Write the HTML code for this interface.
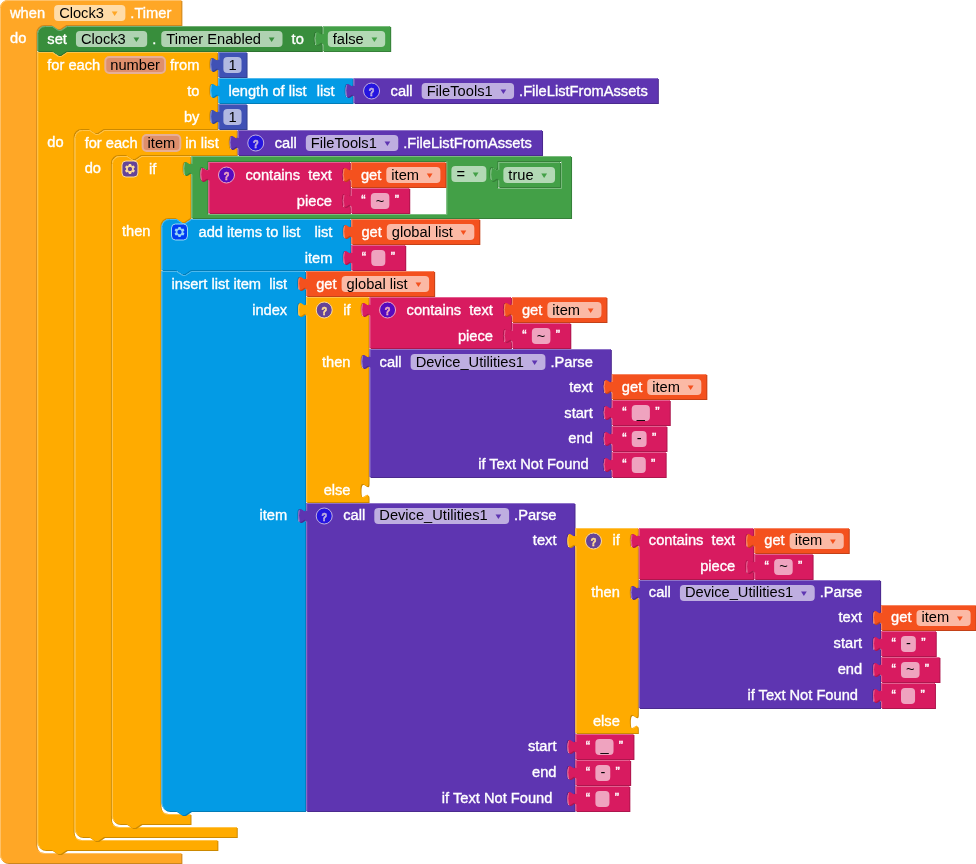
<!DOCTYPE html>
<html lang="en"><head><meta charset="utf-8"><title>Blocks</title>
<style>
html,body{margin:0;padding:0;background:#fff;}
body{width:976px;height:864px;overflow:hidden;}
svg{display:block;}
svg text{white-space:pre;font-family:"Liberation Sans",Arial,Helvetica,sans-serif;font-size:11pt;fill:#fff;}
svg text{stroke:#fff;stroke-width:.35px;}
svg text.k{fill:#000;stroke:none;}
svg text.ar{stroke:none;}
svg text.qt{font-size:13px;}
svg text.ar{font-family:"DejaVu Sans","Liberation Sans",sans-serif;font-size:8.9px;}
svg .fe{fill:#fff;fill-opacity:.6;}
svg .fp{fill:#de8f6c;stroke:#e7af96;stroke-width:2;}
svg .hl{fill:none;stroke-width:1;}
svg .ic{opacity:.6;}
svg .is{fill:#00f;stroke:#fff;stroke-width:1;}
svg text.q{font-family:"Liberation Sans",sans-serif;font-weight:bold;font-size:11.5px;text-anchor:middle;fill:#fff;stroke-width:.6px;}
</style></head><body>
<svg width="976" height="864" viewBox="0 0 976 864">
<g transform="translate(0,0)"><path fill="#cc861e" transform="translate(1,1)" d="m 0,8 A 8,8 0 0,1 8,0 H 181.38 v 25 H 66.31 l -6,4 -3,0 -6,-4 h -7 a 8,8 0 0,0 -8,8 v 812 a 8,8 0 0,0 8,8 H 181.38 v 10 H 8 a 8,8 0 0,1 -8,-8 z "/><path fill="#FFA726" d="m 0,8 A 8,8 0 0,1 8,0 H 181.38 v 25 H 66.31 l -6,4 -3,0 -6,-4 h -7 a 8,8 0 0,0 -8,8 v 812 a 8,8 0 0,0 8,8 H 181.38 v 10 H 8 a 8,8 0 0,1 -8,-8 z "/><path class="hl" stroke="#ffc167" d="m 0.5,7.5 A 7.5,7.5 0 0,1 8,0.5 H 180.88 M 180.88,0.5 M 180.88,25.5 M 38.3,851.01 a 8.5,8.5 0 0,0 6.01,2.49 H 180.88 M 2.7,860.3 A 7.5,7.5 0 0,1 0.5,855 V 8 "/></g>
<text x="10" y="17.5">when</text>
<rect class="fe" x="54.14" y="5" width="71.23" height="16" rx="4"/>
<text class="k" x="59.14" y="17.5">Clock3</text>
<text class="ar" style="fill:#FFA726" transform="translate(111.67,15.7) scale(1.3,1)">▾</text>
<text x="130.37" y="17.5">.Timer</text>
<text x="10" y="42.5">do</text>
<g transform="translate(37.31,26)"><path fill="#2d7230" transform="translate(1,1)" d="m 0,8 A 8,8 0 0,1 8,0 H 15 l 6,4 3,0 6,-4 H 284.49 v 5 c 0,10 -8,-8 -8,7.5 s 8,-2.5 8,7.5 v 5 H 29.5 l -6,4 -3,0 -6,-4 H 0 z "/><path fill="#388E3C" d="m 0,8 A 8,8 0 0,1 8,0 H 15 l 6,4 3,0 6,-4 H 284.49 v 5 c 0,10 -8,-8 -8,7.5 s 8,-2.5 8,7.5 v 5 H 29.5 l -6,4 -3,0 -6,-4 H 0 z "/><path class="hl" stroke="#74b076" d="m 0.5,7.5 A 7.5,7.5 0 0,1 8,0.5 H 15 l 6,4 3,0 6,-4 H 283.99 M 283.99,0.5 M 279.49,19.3 l 3.68,-2.1 M 0.5,24.5 V 8 "/></g>
<text x="47.31" y="43.5">set</text>
<rect class="fe" x="75.95" y="31" width="71.23" height="16" rx="4"/>
<text class="k" x="80.95" y="43.5">Clock3</text>
<text class="ar" style="fill:#388E3C" transform="translate(133.49,41.7) scale(1.3,1)">▾</text>
<text x="152.19" y="43.5">.</text>
<rect class="fe" x="161.26" y="31" width="121.24" height="16" rx="4"/>
<text class="k" x="166.26" y="43.5">Timer Enabled</text>
<text class="ar" style="fill:#388E3C" transform="translate(268.8,41.7) scale(1.3,1)">▾</text>
<text x="291.57" y="43.5">to</text>
<g transform="translate(322.8,26)"><path fill="#368039" transform="translate(1,1)" d="m 0,0 H 67.38 v 25 H 0 V 20 c 0,-10 -8,8 -8,-7.5 s 8,2.5 8,-7.5 z "/><path fill="#43A047" d="m 0,0 H 67.38 v 25 H 0 V 20 c 0,-10 -8,8 -8,-7.5 s 8,2.5 8,-7.5 z "/><path class="hl" stroke="#7bbc7e" d="m 0.5,0.5 H 66.88 M 66.88,0.5 M 0.5,24.5 V 18.5 m -7.36,-0.5 q -1.52,-5.5 0,-11 m 7.36,1 V 0.5 H 1 "/></g>
<rect class="fe" x="327.8" y="31" width="57.38" height="16" rx="4"/>
<text class="k" x="332.8" y="43.5">false</text>
<text class="ar" style="fill:#43A047" transform="translate(371.48,41.7) scale(1.3,1)">▾</text>
<g transform="translate(37.31,52)"><path fill="#cc8900" transform="translate(1,1)" d="m 0,0 H 15 l 6,4 3,0 6,-4 H 180.06 v 5 c 0,10 -8,-8 -8,7.5 s 8,-2.5 8,7.5 v 6 v 5 c 0,10 -8,-8 -8,7.5 s 8,-2.5 8,7.5 v 6 v 5 c 0,10 -8,-8 -8,7.5 s 8,-2.5 8,7.5 v 5 H 66.31 l -6,4 -3,0 -6,-4 h -7 a 8,8 0 0,0 -8,8 v 695 a 8,8 0 0,0 8,8 H 180.06 v 10 H 29.5 l -6,4 -3,0 -6,-4 H 8 a 8,8 0 0,1 -8,-8 z "/><path fill="#FFAB00" d="m 0,0 H 15 l 6,4 3,0 6,-4 H 180.06 v 5 c 0,10 -8,-8 -8,7.5 s 8,-2.5 8,7.5 v 6 v 5 c 0,10 -8,-8 -8,7.5 s 8,-2.5 8,7.5 v 6 v 5 c 0,10 -8,-8 -8,7.5 s 8,-2.5 8,7.5 v 5 H 66.31 l -6,4 -3,0 -6,-4 h -7 a 8,8 0 0,0 -8,8 v 695 a 8,8 0 0,0 8,8 H 180.06 v 10 H 29.5 l -6,4 -3,0 -6,-4 H 8 a 8,8 0 0,1 -8,-8 z "/><path class="hl" stroke="#ffc44c" d="m 0.5,0.5 H 15 l 6,4 3,0 6,-4 H 179.56 M 179.56,0.5 M 175.06,19.3 l 3.68,-2.1 M 179.56,26.5 M 175.06,45.3 l 3.68,-2.1 M 179.56,52.5 M 175.06,71.3 l 3.68,-2.1 M 179.56,77.5 M 38.3,786.01 a 8.5,8.5 0 0,0 6.01,2.49 H 179.56 M 2.7,795.3 A 7.5,7.5 0 0,1 0.5,790 V 0.5 "/></g>
<text x="47.31" y="69.5">for each</text>
<rect class="fp" x="105.31" y="57" width="59.73" height="16" rx="4"/>
<text class="k" x="110.31" y="69.5">number</text>
<text x="170.04" y="69.5">from</text>
<text x="187.14" y="95.5">to</text>
<text x="183.89" y="121.5">by</text>
<text x="47.31" y="146.5">do</text>
<g transform="translate(218.38,52)"><path fill="#324191" transform="translate(1,1)" d="m 0,0 H 28.16 v 25 H 0 V 20 c 0,-10 -8,8 -8,-7.5 s 8,2.5 8,-7.5 z "/><path fill="#3F51B5" d="m 0,0 H 28.16 v 25 H 0 V 20 c 0,-10 -8,8 -8,-7.5 s 8,2.5 8,-7.5 z "/><path class="hl" stroke="#7985cb" d="m 0.5,0.5 H 27.66 M 27.66,0.5 M 0.5,24.5 V 18.5 m -7.36,-0.5 q -1.52,-5.5 0,-11 m 7.36,1 V 0.5 H 1 "/></g>
<rect class="fe" x="223.38" y="57" width="18.16" height="16" rx="4"/>
<text class="k" x="228.38" y="69.5">1</text>
<g transform="translate(218.38,78)"><path fill="#027cb7" transform="translate(1,1)" d="m 0,0 H 134.19 v 5 c 0,10 -8,-8 -8,7.5 s 8,-2.5 8,7.5 v 5 H 0 V 20 c 0,-10 -8,8 -8,-7.5 s 8,2.5 8,-7.5 z "/><path fill="#039BE5" d="m 0,0 H 134.19 v 5 c 0,10 -8,-8 -8,7.5 s 8,-2.5 8,7.5 v 5 H 0 V 20 c 0,-10 -8,8 -8,-7.5 s 8,2.5 8,-7.5 z "/><path class="hl" stroke="#4fb9ed" d="m 0.5,0.5 H 133.69 M 133.69,0.5 M 129.19,19.3 l 3.68,-2.1 M 0.5,24.5 V 18.5 m -7.36,-0.5 q -1.52,-5.5 0,-11 m 7.36,1 V 0.5 H 1 "/></g>
<text x="228.38" y="95.5">length of list</text>
<text x="316.65" y="95.5">list</text>
<g transform="translate(353.57,78)"><path fill="#4b2a8e" transform="translate(1,1)" d="m 0,0 H 304.28 v 25 H 0 V 20 c 0,-10 -8,8 -8,-7.5 s 8,2.5 8,-7.5 z "/><path fill="#5E35B1" d="m 0,0 H 304.28 v 25 H 0 V 20 c 0,-10 -8,8 -8,-7.5 s 8,2.5 8,-7.5 z "/><path class="hl" stroke="#8e72c8" d="m 0.5,0.5 H 303.78 M 303.78,0.5 M 0.5,24.5 V 18.5 m -7.36,-0.5 q -1.52,-5.5 0,-11 m 7.36,1 V 0.5 H 1 "/></g>
<g class="ic" transform="translate(363.57,83)"><circle class="is" cx="8" cy="8" r="8"/><text class="q" transform="translate(8.1,12.9) scale(.8,1.02)">?</text></g>
<text x="390.57" y="95.5">call</text>
<rect class="fe" x="421.65" y="83" width="92.43" height="16" rx="4"/>
<text class="k" x="426.65" y="95.5">FileTools1</text>
<text class="ar" style="fill:#5E35B1" transform="translate(500.38,93.7) scale(1.3,1)">▾</text>
<text x="519.08" y="95.5">.FileListFromAssets</text>
<g transform="translate(218.38,104)"><path fill="#324191" transform="translate(1,1)" d="m 0,0 H 28.16 v 25 H 0 V 20 c 0,-10 -8,8 -8,-7.5 s 8,2.5 8,-7.5 z "/><path fill="#3F51B5" d="m 0,0 H 28.16 v 25 H 0 V 20 c 0,-10 -8,8 -8,-7.5 s 8,2.5 8,-7.5 z "/><path class="hl" stroke="#7985cb" d="m 0.5,0.5 H 27.66 M 27.66,0.5 M 0.5,24.5 V 18.5 m -7.36,-0.5 q -1.52,-5.5 0,-11 m 7.36,1 V 0.5 H 1 "/></g>
<rect class="fe" x="223.38" y="109" width="18.16" height="16" rx="4"/>
<text class="k" x="228.38" y="121.5">1</text>
<g transform="translate(74.63,130)"><path fill="#cc8900" transform="translate(1,1)" d="m 0,8 A 8,8 0 0,1 8,0 H 15 l 6,4 3,0 6,-4 H 162.12 v 5 c 0,10 -8,-8 -8,7.5 s 8,-2.5 8,7.5 v 5 H 66.31 l -6,4 -3,0 -6,-4 h -7 a 8,8 0 0,0 -8,8 v 656 a 8,8 0 0,0 8,8 H 162.12 v 10 H 29.5 l -6,4 -3,0 -6,-4 H 8 a 8,8 0 0,1 -8,-8 z "/><path fill="#FFAB00" d="m 0,8 A 8,8 0 0,1 8,0 H 15 l 6,4 3,0 6,-4 H 162.12 v 5 c 0,10 -8,-8 -8,7.5 s 8,-2.5 8,7.5 v 5 H 66.31 l -6,4 -3,0 -6,-4 h -7 a 8,8 0 0,0 -8,8 v 656 a 8,8 0 0,0 8,8 H 162.12 v 10 H 29.5 l -6,4 -3,0 -6,-4 H 8 a 8,8 0 0,1 -8,-8 z "/><path class="hl" stroke="#ffc44c" d="m 0.5,7.5 A 7.5,7.5 0 0,1 8,0.5 H 15 l 6,4 3,0 6,-4 H 161.62 M 161.62,0.5 M 157.12,19.3 l 3.68,-2.1 M 161.62,25.5 M 38.3,695.01 a 8.5,8.5 0 0,0 6.01,2.49 H 161.62 M 2.7,704.3 A 7.5,7.5 0 0,1 0.5,699 V 8 "/></g>
<text x="84.63" y="147.5">for each</text>
<rect class="fp" x="142.62" y="135" width="37.71" height="16" rx="4"/>
<text class="k" x="147.62" y="147.5">item</text>
<text x="185.33" y="147.5">in list</text>
<text x="84.63" y="172.5">do</text>
<g transform="translate(237.75,130)"><path fill="#4b2a8e" transform="translate(1,1)" d="m 0,0 H 304.28 v 25 H 0 V 20 c 0,-10 -8,8 -8,-7.5 s 8,2.5 8,-7.5 z "/><path fill="#5E35B1" d="m 0,0 H 304.28 v 25 H 0 V 20 c 0,-10 -8,8 -8,-7.5 s 8,2.5 8,-7.5 z "/><path class="hl" stroke="#8e72c8" d="m 0.5,0.5 H 303.78 M 303.78,0.5 M 0.5,24.5 V 18.5 m -7.36,-0.5 q -1.52,-5.5 0,-11 m 7.36,1 V 0.5 H 1 "/></g>
<g class="ic" transform="translate(247.75,135)"><circle class="is" cx="8" cy="8" r="8"/><text class="q" transform="translate(8.1,12.9) scale(.8,1.02)">?</text></g>
<text x="274.75" y="147.5">call</text>
<rect class="fe" x="305.83" y="135" width="92.43" height="16" rx="4"/>
<text class="k" x="310.83" y="147.5">FileTools1</text>
<text class="ar" style="fill:#5E35B1" transform="translate(384.56,145.7) scale(1.3,1)">▾</text>
<text x="403.26" y="147.5">.FileListFromAssets</text>
<g transform="translate(111.94,156)"><path fill="#cc8900" transform="translate(1,1)" d="m 0,8 A 8,8 0 0,1 8,0 H 15 l 6,4 3,0 6,-4 H 78.55 v 5 c 0,10 -8,-8 -8,7.5 s 8,-2.5 8,7.5 v 42 H 78.55 l -6,4 -3,0 -6,-4 h -7 a 8,8 0 0,0 -8,8 v 580 a 8,8 0 0,0 8,8 H 78.55 v 10 H 29.5 l -6,4 -3,0 -6,-4 H 8 a 8,8 0 0,1 -8,-8 z "/><path fill="#FFAB00" d="m 0,8 A 8,8 0 0,1 8,0 H 15 l 6,4 3,0 6,-4 H 78.55 v 5 c 0,10 -8,-8 -8,7.5 s 8,-2.5 8,7.5 v 42 H 78.55 l -6,4 -3,0 -6,-4 h -7 a 8,8 0 0,0 -8,8 v 580 a 8,8 0 0,0 8,8 H 78.55 v 10 H 29.5 l -6,4 -3,0 -6,-4 H 8 a 8,8 0 0,1 -8,-8 z "/><path class="hl" stroke="#ffc44c" d="m 0.5,7.5 A 7.5,7.5 0 0,1 8,0.5 H 15 l 6,4 3,0 6,-4 H 78.05 M 78.05,0.5 M 73.55,19.3 l 3.68,-2.1 M 78.05,62.5 M 50.54,656.01 a 8.5,8.5 0 0,0 6.01,2.49 H 78.05 M 2.7,665.3 A 7.5,7.5 0 0,1 0.5,660 V 8 "/></g>
<g class="ic" transform="translate(121.94,161)"><rect class="is" width="16" height="16" rx="4"/><path fill="#fff" d="m4.203,7.296 0,1.368 -0.92,0.677 -0.11,0.41 0.9,1.559 0.41,0.11 1.043,-0.457 1.187,0.683 0.127,1.134 0.3,0.3 1.8,0 0.3,-0.299 0.127,-1.138 1.185,-0.682 1.046,0.458 0.409,-0.11 0.9,-1.559 -0.11,-0.41 -0.92,-0.677 0,-1.366 0.92,-0.677 0.11,-0.41 -0.9,-1.559 -0.409,-0.109 -1.046,0.458 -1.185,-0.682 -0.127,-1.138 -0.3,-0.299 -1.8,0 -0.3,0.3 -0.126,1.135 -1.187,0.682 -1.043,-0.457 -0.41,0.11 -0.899,1.559 0.108,0.409z"/><circle class="is" cx="8" cy="8" r="2.7"/></g>
<text x="148.94" y="173.5">if</text>
<text x="121.94" y="235.5">then</text>
<g transform="translate(191.49,156)"><path fill="#368039" transform="translate(1,1)" d="m 0,0 H 20 H 379.55 v 62 H 0 V 20 c 0,-10 -8,8 -8,-7.5 s 8,2.5 8,-7.5 z M 254.92,5 h -238.92 v 5 c 0,10 -8,-8 -8,7.5 s 8,-2.5 8,7.5 v 33 h 238.92 z M 369.55,5 h -63.67 v 5 c 0,10 -8,-8 -8,7.5 s 8,-2.5 8,7.5 v 7 h 63.67 z"/><path fill="#43A047" d="m 0,0 H 20 H 379.55 v 62 H 0 V 20 c 0,-10 -8,8 -8,-7.5 s 8,2.5 8,-7.5 z M 254.92,5 h -238.92 v 5 c 0,10 -8,-8 -8,7.5 s 8,-2.5 8,7.5 v 33 h 238.92 z M 369.55,5 h -63.67 v 5 c 0,10 -8,-8 -8,7.5 s 8,-2.5 8,7.5 v 7 h 63.67 z"/><path class="hl" stroke="#7bbc7e" d="m 0.5,0.5 H 19.5 M 19.5,0.5 H 379.05 M 0.5,61.5 V 18.5 m -7.36,-0.5 q -1.52,-5.5 0,-11 m 7.36,1 V 0.5 H 1 M 255.42,5.5 v 53 h -238.92 M 10.9,24.3 l 3.68,-2.1 M 370.05,5.5 v 27 h -63.67 M 300.78,24.3 l 3.68,-2.1"/></g>
<rect class="fe" x="451.4" y="166" width="34.97" height="16" rx="4"/>
<text class="k" x="456.4" y="178.5">=</text>
<text class="ar" style="fill:#43A047" transform="translate(472.67,176.7) scale(1.3,1)">▾</text>
<g transform="translate(208.49,162)"><path fill="#ad164d" transform="translate(1,1)" d="m 0,0 H 141.42 v 5 c 0,10 -8,-8 -8,7.5 s 8,-2.5 8,7.5 v 6 v 5 c 0,10 -8,-8 -8,7.5 s 8,-2.5 8,7.5 v 5 H 0 V 20 c 0,-10 -8,8 -8,-7.5 s 8,2.5 8,-7.5 z "/><path fill="#D81B60" d="m 0,0 H 141.42 v 5 c 0,10 -8,-8 -8,7.5 s 8,-2.5 8,7.5 v 6 v 5 c 0,10 -8,-8 -8,7.5 s 8,-2.5 8,7.5 v 5 H 0 V 20 c 0,-10 -8,8 -8,-7.5 s 8,2.5 8,-7.5 z "/><path class="hl" stroke="#e45f90" d="m 0.5,0.5 H 140.92 M 140.92,0.5 M 136.42,19.3 l 3.68,-2.1 M 140.92,26.5 M 136.42,45.3 l 3.68,-2.1 M 0.5,50.5 V 18.5 m -7.36,-0.5 q -1.52,-5.5 0,-11 m 7.36,1 V 0.5 H 1 "/></g>
<g class="ic" transform="translate(218.49,167)"><circle class="is" cx="8" cy="8" r="8"/><text class="q" transform="translate(8.1,12.9) scale(.8,1.02)">?</text></g>
<text x="245.49" y="179.5">contains  text</text>
<text x="296.84" y="205.5">piece</text>
<g transform="translate(350.91,162)"><path fill="#c34118" transform="translate(1,1)" d="m 0,0 H 94.5 v 25 H 0 V 20 c 0,-10 -8,8 -8,-7.5 s 8,2.5 8,-7.5 z "/><path fill="#F4511E" d="m 0,0 H 94.5 v 25 H 0 V 20 c 0,-10 -8,8 -8,-7.5 s 8,2.5 8,-7.5 z "/><path class="hl" stroke="#f78562" d="m 0.5,0.5 H 94 M 94,0.5 M 0.5,24.5 V 18.5 m -7.36,-0.5 q -1.52,-5.5 0,-11 m 7.36,1 V 0.5 H 1 "/></g>
<text x="360.91" y="179.5">get</text>
<rect class="fe" x="386.3" y="167" width="54.11" height="16" rx="4"/>
<text class="k" x="391.3" y="179.5">item</text>
<text class="ar" style="fill:#F4511E" transform="translate(426.7,177.7) scale(1.3,1)">▾</text>
<g transform="translate(350.91,188)"><path fill="#ad164d" transform="translate(1,1)" d="m 0,0 H 58.33 v 25 H 0 V 20 c 0,-10 -8,8 -8,-7.5 s 8,2.5 8,-7.5 z "/><path fill="#D81B60" d="m 0,0 H 58.33 v 25 H 0 V 20 c 0,-10 -8,8 -8,-7.5 s 8,2.5 8,-7.5 z "/><path class="hl" stroke="#e45f90" d="m 0.5,0.5 H 57.83 M 57.83,0.5 M 0.5,24.5 V 18.5 m -7.36,-0.5 q -1.52,-5.5 0,-11 m 7.36,1 V 0.5 H 1 "/></g>
<text class="qt" x="361.21" y="204">“</text>
<rect class="fe" x="370.79" y="193" width="18.57" height="16" rx="4"/>
<text class="k" x="375.79" y="205.5">~</text>
<text class="qt" x="394.66" y="204">”</text>
<g transform="translate(498.37,162)"><path fill="#368039" transform="translate(1,1)" d="m 0,0 H 61.67 v 25 H 0 V 20 c 0,-10 -8,8 -8,-7.5 s 8,2.5 8,-7.5 z "/><path fill="#43A047" d="m 0,0 H 61.67 v 25 H 0 V 20 c 0,-10 -8,8 -8,-7.5 s 8,2.5 8,-7.5 z "/><path class="hl" stroke="#7bbc7e" d="m 0.5,0.5 H 61.17 M 61.17,0.5 M 0.5,24.5 V 18.5 m -7.36,-0.5 q -1.52,-5.5 0,-11 m 7.36,1 V 0.5 H 1 "/></g>
<rect class="fe" x="503.37" y="167" width="51.67" height="16" rx="4"/>
<text class="k" x="508.37" y="179.5">true</text>
<text class="ar" style="fill:#43A047" transform="translate(541.34,177.7) scale(1.3,1)">▾</text>
<g transform="translate(161.49,219)"><path fill="#027cb7" transform="translate(1,1)" d="m 0,8 A 8,8 0 0,1 8,0 H 15 l 6,4 3,0 6,-4 H 188.89 v 5 c 0,10 -8,-8 -8,7.5 s 8,-2.5 8,7.5 v 6 v 5 c 0,10 -8,-8 -8,7.5 s 8,-2.5 8,7.5 v 5 H 29.5 l -6,4 -3,0 -6,-4 H 0 z "/><path fill="#039BE5" d="m 0,8 A 8,8 0 0,1 8,0 H 15 l 6,4 3,0 6,-4 H 188.89 v 5 c 0,10 -8,-8 -8,7.5 s 8,-2.5 8,7.5 v 6 v 5 c 0,10 -8,-8 -8,7.5 s 8,-2.5 8,7.5 v 5 H 29.5 l -6,4 -3,0 -6,-4 H 0 z "/><path class="hl" stroke="#4fb9ed" d="m 0.5,7.5 A 7.5,7.5 0 0,1 8,0.5 H 15 l 6,4 3,0 6,-4 H 188.39 M 188.39,0.5 M 183.89,19.3 l 3.68,-2.1 M 188.39,26.5 M 183.89,45.3 l 3.68,-2.1 M 0.5,50.5 V 8 "/></g>
<g class="ic" transform="translate(171.49,224)"><rect class="is" width="16" height="16" rx="4"/><path fill="#fff" d="m4.203,7.296 0,1.368 -0.92,0.677 -0.11,0.41 0.9,1.559 0.41,0.11 1.043,-0.457 1.187,0.683 0.127,1.134 0.3,0.3 1.8,0 0.3,-0.299 0.127,-1.138 1.185,-0.682 1.046,0.458 0.409,-0.11 0.9,-1.559 -0.11,-0.41 -0.92,-0.677 0,-1.366 0.92,-0.677 0.11,-0.41 -0.9,-1.559 -0.409,-0.109 -1.046,0.458 -1.185,-0.682 -0.127,-1.138 -0.3,-0.299 -1.8,0 -0.3,0.3 -0.126,1.135 -1.187,0.682 -1.043,-0.457 -0.41,0.11 -0.899,1.559 0.108,0.409z"/><circle class="is" cx="8" cy="8" r="2.7"/></g>
<text x="198.49" y="236.5">add items to list</text>
<text x="314.46" y="236.5">list</text>
<text x="304.68" y="262.5">item</text>
<g transform="translate(351.38,219)"><path fill="#c34118" transform="translate(1,1)" d="m 0,0 H 127.94 v 25 H 0 V 20 c 0,-10 -8,8 -8,-7.5 s 8,2.5 8,-7.5 z "/><path fill="#F4511E" d="m 0,0 H 127.94 v 25 H 0 V 20 c 0,-10 -8,8 -8,-7.5 s 8,2.5 8,-7.5 z "/><path class="hl" stroke="#f78562" d="m 0.5,0.5 H 127.44 M 127.44,0.5 M 0.5,24.5 V 18.5 m -7.36,-0.5 q -1.52,-5.5 0,-11 m 7.36,1 V 0.5 H 1 "/></g>
<text x="361.38" y="236.5">get</text>
<rect class="fe" x="386.77" y="224" width="87.55" height="16" rx="4"/>
<text class="k" x="391.77" y="236.5">global list</text>
<text class="ar" style="fill:#F4511E" transform="translate(460.62,234.7) scale(1.3,1)">▾</text>
<g transform="translate(351.38,245)"><path fill="#ad164d" transform="translate(1,1)" d="m 0,0 H 53.84 v 25 H 0 V 20 c 0,-10 -8,8 -8,-7.5 s 8,2.5 8,-7.5 z "/><path fill="#D81B60" d="m 0,0 H 53.84 v 25 H 0 V 20 c 0,-10 -8,8 -8,-7.5 s 8,2.5 8,-7.5 z "/><path class="hl" stroke="#e45f90" d="m 0.5,0.5 H 53.34 M 53.34,0.5 M 0.5,24.5 V 18.5 m -7.36,-0.5 q -1.52,-5.5 0,-11 m 7.36,1 V 0.5 H 1 "/></g>
<text class="qt" x="361.68" y="261">“</text>
<rect class="fe" x="371.27" y="250" width="14.07" height="16" rx="4"/>
<text class="k" x="376.27" y="262.5"> </text>
<text class="qt" x="390.64" y="261">”</text>
<g transform="translate(161.49,271)"><path fill="#027cb7" transform="translate(1,1)" d="m 0,0 H 15 l 6,4 3,0 6,-4 H 143.72 v 5 c 0,10 -8,-8 -8,7.5 s 8,-2.5 8,7.5 v 6 v 5 c 0,10 -8,-8 -8,7.5 s 8,-2.5 8,7.5 v 186 v 5 c 0,10 -8,-8 -8,7.5 s 8,-2.5 8,7.5 v 288 H 29.5 l -6,4 -3,0 -6,-4 H 8 a 8,8 0 0,1 -8,-8 z "/><path fill="#039BE5" d="m 0,0 H 15 l 6,4 3,0 6,-4 H 143.72 v 5 c 0,10 -8,-8 -8,7.5 s 8,-2.5 8,7.5 v 6 v 5 c 0,10 -8,-8 -8,7.5 s 8,-2.5 8,7.5 v 186 v 5 c 0,10 -8,-8 -8,7.5 s 8,-2.5 8,7.5 v 288 H 29.5 l -6,4 -3,0 -6,-4 H 8 a 8,8 0 0,1 -8,-8 z "/><path class="hl" stroke="#4fb9ed" d="m 0.5,0.5 H 15 l 6,4 3,0 6,-4 H 143.22 M 143.22,0.5 M 138.72,19.3 l 3.68,-2.1 M 143.22,26.5 M 138.72,45.3 l 3.68,-2.1 M 143.22,232.5 M 138.72,251.3 l 3.68,-2.1 M 2.7,537.3 A 7.5,7.5 0 0,1 0.5,532 V 0.5 "/></g>
<text x="171.49" y="288.5">insert list item  list</text>
<text x="252.15" y="314.5">index</text>
<text x="259.5" y="519.5">item</text>
<g transform="translate(306.21,271)"><path fill="#c34118" transform="translate(1,1)" d="m 0,0 H 127.94 v 25 H 0 V 20 c 0,-10 -8,8 -8,-7.5 s 8,2.5 8,-7.5 z "/><path fill="#F4511E" d="m 0,0 H 127.94 v 25 H 0 V 20 c 0,-10 -8,8 -8,-7.5 s 8,2.5 8,-7.5 z "/><path class="hl" stroke="#f78562" d="m 0.5,0.5 H 127.44 M 127.44,0.5 M 0.5,24.5 V 18.5 m -7.36,-0.5 q -1.52,-5.5 0,-11 m 7.36,1 V 0.5 H 1 "/></g>
<text x="316.21" y="288.5">get</text>
<rect class="fe" x="341.6" y="276" width="87.55" height="16" rx="4"/>
<text class="k" x="346.6" y="288.5">global list</text>
<text class="ar" style="fill:#F4511E" transform="translate(415.45,286.7) scale(1.3,1)">▾</text>
<g transform="translate(306.21,297)"><path fill="#cc8900" transform="translate(1,1)" d="m 0,0 H 62.33 v 5 c 0,10 -8,-8 -8,7.5 s 8,-2.5 8,7.5 v 32 v 5 c 0,10 -8,-8 -8,7.5 s 8,-2.5 8,7.5 v 109 v 5 c 0,10 -8,-8 -8,7.5 s 8,-2.5 8,7.5 v 4 H 0 V 20 c 0,-10 -8,8 -8,-7.5 s 8,2.5 8,-7.5 z "/><path fill="#FFAB00" d="m 0,0 H 62.33 v 5 c 0,10 -8,-8 -8,7.5 s 8,-2.5 8,7.5 v 32 v 5 c 0,10 -8,-8 -8,7.5 s 8,-2.5 8,7.5 v 109 v 5 c 0,10 -8,-8 -8,7.5 s 8,-2.5 8,7.5 v 4 H 0 V 20 c 0,-10 -8,8 -8,-7.5 s 8,2.5 8,-7.5 z "/><path class="hl" stroke="#ffc44c" d="m 0.5,0.5 H 61.83 M 61.83,0.5 M 57.33,19.3 l 3.68,-2.1 M 61.83,52.5 M 57.33,71.3 l 3.68,-2.1 M 61.83,181.5 M 57.33,200.3 l 3.68,-2.1 M 0.5,204.5 V 18.5 m -7.36,-0.5 q -1.52,-5.5 0,-11 m 7.36,1 V 0.5 H 1 "/></g>
<g class="ic" transform="translate(316.21,302)"><circle class="is" cx="8" cy="8" r="8"/><text class="q" transform="translate(8.1,12.9) scale(.8,1.02)">?</text></g>
<text x="343.21" y="314.5">if</text>
<text x="322" y="366.5">then</text>
<text x="323.64" y="495">else</text>
<g transform="translate(369.55,297)"><path fill="#ad164d" transform="translate(1,1)" d="m 0,0 H 141.42 v 5 c 0,10 -8,-8 -8,7.5 s 8,-2.5 8,7.5 v 6 v 5 c 0,10 -8,-8 -8,7.5 s 8,-2.5 8,7.5 v 5 H 0 V 20 c 0,-10 -8,8 -8,-7.5 s 8,2.5 8,-7.5 z "/><path fill="#D81B60" d="m 0,0 H 141.42 v 5 c 0,10 -8,-8 -8,7.5 s 8,-2.5 8,7.5 v 6 v 5 c 0,10 -8,-8 -8,7.5 s 8,-2.5 8,7.5 v 5 H 0 V 20 c 0,-10 -8,8 -8,-7.5 s 8,2.5 8,-7.5 z "/><path class="hl" stroke="#e45f90" d="m 0.5,0.5 H 140.92 M 140.92,0.5 M 136.42,19.3 l 3.68,-2.1 M 140.92,26.5 M 136.42,45.3 l 3.68,-2.1 M 0.5,50.5 V 18.5 m -7.36,-0.5 q -1.52,-5.5 0,-11 m 7.36,1 V 0.5 H 1 "/></g>
<g class="ic" transform="translate(379.55,302)"><circle class="is" cx="8" cy="8" r="8"/><text class="q" transform="translate(8.1,12.9) scale(.8,1.02)">?</text></g>
<text x="406.55" y="314.5">contains  text</text>
<text x="457.9" y="340.5">piece</text>
<g transform="translate(511.96,297)"><path fill="#c34118" transform="translate(1,1)" d="m 0,0 H 94.5 v 25 H 0 V 20 c 0,-10 -8,8 -8,-7.5 s 8,2.5 8,-7.5 z "/><path fill="#F4511E" d="m 0,0 H 94.5 v 25 H 0 V 20 c 0,-10 -8,8 -8,-7.5 s 8,2.5 8,-7.5 z "/><path class="hl" stroke="#f78562" d="m 0.5,0.5 H 94 M 94,0.5 M 0.5,24.5 V 18.5 m -7.36,-0.5 q -1.52,-5.5 0,-11 m 7.36,1 V 0.5 H 1 "/></g>
<text x="521.96" y="314.5">get</text>
<rect class="fe" x="547.35" y="302" width="54.11" height="16" rx="4"/>
<text class="k" x="552.35" y="314.5">item</text>
<text class="ar" style="fill:#F4511E" transform="translate(587.76,312.7) scale(1.3,1)">▾</text>
<g transform="translate(511.96,323)"><path fill="#ad164d" transform="translate(1,1)" d="m 0,0 H 58.33 v 25 H 0 V 20 c 0,-10 -8,8 -8,-7.5 s 8,2.5 8,-7.5 z "/><path fill="#D81B60" d="m 0,0 H 58.33 v 25 H 0 V 20 c 0,-10 -8,8 -8,-7.5 s 8,2.5 8,-7.5 z "/><path class="hl" stroke="#e45f90" d="m 0.5,0.5 H 57.83 M 57.83,0.5 M 0.5,24.5 V 18.5 m -7.36,-0.5 q -1.52,-5.5 0,-11 m 7.36,1 V 0.5 H 1 "/></g>
<text class="qt" x="522.26" y="339">“</text>
<rect class="fe" x="531.85" y="328" width="18.57" height="16" rx="4"/>
<text class="k" x="536.85" y="340.5">~</text>
<text class="qt" x="555.71" y="339">”</text>
<g transform="translate(369.55,349)"><path fill="#4b2a8e" transform="translate(1,1)" d="m 0,0 H 241.29 v 25 v 5 c 0,10 -8,-8 -8,7.5 s 8,-2.5 8,7.5 v 6 v 5 c 0,10 -8,-8 -8,7.5 s 8,-2.5 8,7.5 v 6 v 5 c 0,10 -8,-8 -8,7.5 s 8,-2.5 8,7.5 v 6 v 5 c 0,10 -8,-8 -8,7.5 s 8,-2.5 8,7.5 v 5 H 0 V 20 c 0,-10 -8,8 -8,-7.5 s 8,2.5 8,-7.5 z "/><path fill="#5E35B1" d="m 0,0 H 241.29 v 25 v 5 c 0,10 -8,-8 -8,7.5 s 8,-2.5 8,7.5 v 6 v 5 c 0,10 -8,-8 -8,7.5 s 8,-2.5 8,7.5 v 6 v 5 c 0,10 -8,-8 -8,7.5 s 8,-2.5 8,7.5 v 6 v 5 c 0,10 -8,-8 -8,7.5 s 8,-2.5 8,7.5 v 5 H 0 V 20 c 0,-10 -8,8 -8,-7.5 s 8,2.5 8,-7.5 z "/><path class="hl" stroke="#8e72c8" d="m 0.5,0.5 H 240.79 M 240.79,0.5 M 240.79,25.5 M 236.29,44.3 l 3.68,-2.1 M 240.79,51.5 M 236.29,70.3 l 3.68,-2.1 M 240.79,77.5 M 236.29,96.3 l 3.68,-2.1 M 240.79,103.5 M 236.29,122.3 l 3.68,-2.1 M 0.5,127.5 V 18.5 m -7.36,-0.5 q -1.52,-5.5 0,-11 m 7.36,1 V 0.5 H 1 "/></g>
<text x="379.55" y="366.5">call</text>
<rect class="fe" x="410.63" y="354" width="134.81" height="16" rx="4"/>
<text class="k" x="415.63" y="366.5">Device_Utilities1</text>
<text class="ar" style="fill:#5E35B1" transform="translate(531.74,364.7) scale(1.3,1)">▾</text>
<text x="550.44" y="366.5">.Parse</text>
<text x="569.19" y="391.5">text</text>
<text x="564.31" y="417.5">start</text>
<text x="568.36" y="442.5">end</text>
<text x="478.16" y="468.5">if Text Not Found</text>
<g transform="translate(611.83,374)"><path fill="#c34118" transform="translate(1,1)" d="m 0,0 H 94.5 v 25 H 0 V 20 c 0,-10 -8,8 -8,-7.5 s 8,2.5 8,-7.5 z "/><path fill="#F4511E" d="m 0,0 H 94.5 v 25 H 0 V 20 c 0,-10 -8,8 -8,-7.5 s 8,2.5 8,-7.5 z "/><path class="hl" stroke="#f78562" d="m 0.5,0.5 H 94 M 94,0.5 M 0.5,24.5 V 18.5 m -7.36,-0.5 q -1.52,-5.5 0,-11 m 7.36,1 V 0.5 H 1 "/></g>
<text x="621.83" y="391.5">get</text>
<rect class="fe" x="647.22" y="379" width="54.11" height="16" rx="4"/>
<text class="k" x="652.22" y="391.5">item</text>
<text class="ar" style="fill:#F4511E" transform="translate(687.63,389.7) scale(1.3,1)">▾</text>
<g transform="translate(611.83,400)"><path fill="#ad164d" transform="translate(1,1)" d="m 0,0 H 57.93 v 25 H 0 V 20 c 0,-10 -8,8 -8,-7.5 s 8,2.5 8,-7.5 z "/><path fill="#D81B60" d="m 0,0 H 57.93 v 25 H 0 V 20 c 0,-10 -8,8 -8,-7.5 s 8,2.5 8,-7.5 z "/><path class="hl" stroke="#e45f90" d="m 0.5,0.5 H 57.43 M 57.43,0.5 M 0.5,24.5 V 18.5 m -7.36,-0.5 q -1.52,-5.5 0,-11 m 7.36,1 V 0.5 H 1 "/></g>
<text class="qt" x="622.13" y="416">“</text>
<rect class="fe" x="631.72" y="405" width="18.16" height="16" rx="4"/>
<text class="k" x="636.72" y="417.5">_</text>
<text class="qt" x="655.17" y="416">”</text>
<g transform="translate(611.83,426)"><path fill="#ad164d" transform="translate(1,1)" d="m 0,0 H 54.65 v 25 H 0 V 20 c 0,-10 -8,8 -8,-7.5 s 8,2.5 8,-7.5 z "/><path fill="#D81B60" d="m 0,0 H 54.65 v 25 H 0 V 20 c 0,-10 -8,8 -8,-7.5 s 8,2.5 8,-7.5 z "/><path class="hl" stroke="#e45f90" d="m 0.5,0.5 H 54.15 M 54.15,0.5 M 0.5,24.5 V 18.5 m -7.36,-0.5 q -1.52,-5.5 0,-11 m 7.36,1 V 0.5 H 1 "/></g>
<text class="qt" x="622.13" y="442">“</text>
<rect class="fe" x="631.72" y="431" width="14.88" height="16" rx="4"/>
<text class="k" x="636.72" y="442.5">-</text>
<text class="qt" x="651.9" y="442">”</text>
<g transform="translate(611.83,452)"><path fill="#ad164d" transform="translate(1,1)" d="m 0,0 H 53.84 v 25 H 0 V 20 c 0,-10 -8,8 -8,-7.5 s 8,2.5 8,-7.5 z "/><path fill="#D81B60" d="m 0,0 H 53.84 v 25 H 0 V 20 c 0,-10 -8,8 -8,-7.5 s 8,2.5 8,-7.5 z "/><path class="hl" stroke="#e45f90" d="m 0.5,0.5 H 53.34 M 53.34,0.5 M 0.5,24.5 V 18.5 m -7.36,-0.5 q -1.52,-5.5 0,-11 m 7.36,1 V 0.5 H 1 "/></g>
<text class="qt" x="622.13" y="468">“</text>
<rect class="fe" x="631.72" y="457" width="14.07" height="16" rx="4"/>
<text class="k" x="636.72" y="468.5"> </text>
<text class="qt" x="651.09" y="468">”</text>
<g transform="translate(306.21,503)"><path fill="#4b2a8e" transform="translate(1,1)" d="m 0,0 H 268.29 v 25 v 5 c 0,10 -8,-8 -8,7.5 s 8,-2.5 8,7.5 v 186 v 5 c 0,10 -8,-8 -8,7.5 s 8,-2.5 8,7.5 v 6 v 5 c 0,10 -8,-8 -8,7.5 s 8,-2.5 8,7.5 v 6 v 5 c 0,10 -8,-8 -8,7.5 s 8,-2.5 8,7.5 v 5 H 0 V 20 c 0,-10 -8,8 -8,-7.5 s 8,2.5 8,-7.5 z "/><path fill="#5E35B1" d="m 0,0 H 268.29 v 25 v 5 c 0,10 -8,-8 -8,7.5 s 8,-2.5 8,7.5 v 186 v 5 c 0,10 -8,-8 -8,7.5 s 8,-2.5 8,7.5 v 6 v 5 c 0,10 -8,-8 -8,7.5 s 8,-2.5 8,7.5 v 6 v 5 c 0,10 -8,-8 -8,7.5 s 8,-2.5 8,7.5 v 5 H 0 V 20 c 0,-10 -8,8 -8,-7.5 s 8,2.5 8,-7.5 z "/><path class="hl" stroke="#8e72c8" d="m 0.5,0.5 H 267.79 M 267.79,0.5 M 267.79,25.5 M 263.29,44.3 l 3.68,-2.1 M 267.79,231.5 M 263.29,250.3 l 3.68,-2.1 M 267.79,257.5 M 263.29,276.3 l 3.68,-2.1 M 267.79,283.5 M 263.29,302.3 l 3.68,-2.1 M 0.5,307.5 V 18.5 m -7.36,-0.5 q -1.52,-5.5 0,-11 m 7.36,1 V 0.5 H 1 "/></g>
<g class="ic" transform="translate(316.21,508)"><circle class="is" cx="8" cy="8" r="8"/><text class="q" transform="translate(8.1,12.9) scale(.8,1.02)">?</text></g>
<text x="343.21" y="519.5">call</text>
<rect class="fe" x="374.3" y="508" width="134.81" height="16" rx="4"/>
<text class="k" x="379.3" y="519.5">Device_Utilities1</text>
<text class="ar" style="fill:#5E35B1" transform="translate(495.41,518.7) scale(1.3,1)">▾</text>
<text x="514.11" y="519.5">.Parse</text>
<text x="532.86" y="544.5">text</text>
<text x="527.97" y="750.5">start</text>
<text x="532.03" y="776.5">end</text>
<text x="441.82" y="802.5">if Text Not Found</text>
<g transform="translate(575.5,528)"><path fill="#cc8900" transform="translate(1,1)" d="m 0,0 H 62.33 v 5 c 0,10 -8,-8 -8,7.5 s 8,-2.5 8,7.5 v 32 v 5 c 0,10 -8,-8 -8,7.5 s 8,-2.5 8,7.5 v 109 v 5 c 0,10 -8,-8 -8,7.5 s 8,-2.5 8,7.5 v 4 H 0 V 20 c 0,-10 -8,8 -8,-7.5 s 8,2.5 8,-7.5 z "/><path fill="#FFAB00" d="m 0,0 H 62.33 v 5 c 0,10 -8,-8 -8,7.5 s 8,-2.5 8,7.5 v 32 v 5 c 0,10 -8,-8 -8,7.5 s 8,-2.5 8,7.5 v 109 v 5 c 0,10 -8,-8 -8,7.5 s 8,-2.5 8,7.5 v 4 H 0 V 20 c 0,-10 -8,8 -8,-7.5 s 8,2.5 8,-7.5 z "/><path class="hl" stroke="#ffc44c" d="m 0.5,0.5 H 61.83 M 61.83,0.5 M 57.33,19.3 l 3.68,-2.1 M 61.83,52.5 M 57.33,71.3 l 3.68,-2.1 M 61.83,181.5 M 57.33,200.3 l 3.68,-2.1 M 0.5,204.5 V 18.5 m -7.36,-0.5 q -1.52,-5.5 0,-11 m 7.36,1 V 0.5 H 1 "/></g>
<g class="ic" transform="translate(585.5,533)"><circle class="is" cx="8" cy="8" r="8"/><text class="q" transform="translate(8.1,12.9) scale(.8,1.02)">?</text></g>
<text x="612.5" y="544.5">if</text>
<text x="591.29" y="596.5">then</text>
<text x="592.93" y="726">else</text>
<g transform="translate(638.83,528)"><path fill="#ad164d" transform="translate(1,1)" d="m 0,0 H 114.42 v 5 c 0,10 -8,-8 -8,7.5 s 8,-2.5 8,7.5 v 6 v 5 c 0,10 -8,-8 -8,7.5 s 8,-2.5 8,7.5 v 5 H 0 V 20 c 0,-10 -8,8 -8,-7.5 s 8,2.5 8,-7.5 z "/><path fill="#D81B60" d="m 0,0 H 114.42 v 5 c 0,10 -8,-8 -8,7.5 s 8,-2.5 8,7.5 v 6 v 5 c 0,10 -8,-8 -8,7.5 s 8,-2.5 8,7.5 v 5 H 0 V 20 c 0,-10 -8,8 -8,-7.5 s 8,2.5 8,-7.5 z "/><path class="hl" stroke="#e45f90" d="m 0.5,0.5 H 113.92 M 113.92,0.5 M 109.42,19.3 l 3.68,-2.1 M 113.92,26.5 M 109.42,45.3 l 3.68,-2.1 M 0.5,50.5 V 18.5 m -7.36,-0.5 q -1.52,-5.5 0,-11 m 7.36,1 V 0.5 H 1 "/></g>
<text x="648.83" y="544.5">contains  text</text>
<text x="700.19" y="570.5">piece</text>
<g transform="translate(754.25,528)"><path fill="#c34118" transform="translate(1,1)" d="m 0,0 H 94.5 v 25 H 0 V 20 c 0,-10 -8,8 -8,-7.5 s 8,2.5 8,-7.5 z "/><path fill="#F4511E" d="m 0,0 H 94.5 v 25 H 0 V 20 c 0,-10 -8,8 -8,-7.5 s 8,2.5 8,-7.5 z "/><path class="hl" stroke="#f78562" d="m 0.5,0.5 H 94 M 94,0.5 M 0.5,24.5 V 18.5 m -7.36,-0.5 q -1.52,-5.5 0,-11 m 7.36,1 V 0.5 H 1 "/></g>
<text x="764.25" y="544.5">get</text>
<rect class="fe" x="789.64" y="533" width="54.11" height="16" rx="4"/>
<text class="k" x="794.64" y="544.5">item</text>
<text class="ar" style="fill:#F4511E" transform="translate(830.05,543.7) scale(1.3,1)">▾</text>
<g transform="translate(754.25,554)"><path fill="#ad164d" transform="translate(1,1)" d="m 0,0 H 58.33 v 25 H 0 V 20 c 0,-10 -8,8 -8,-7.5 s 8,2.5 8,-7.5 z "/><path fill="#D81B60" d="m 0,0 H 58.33 v 25 H 0 V 20 c 0,-10 -8,8 -8,-7.5 s 8,2.5 8,-7.5 z "/><path class="hl" stroke="#e45f90" d="m 0.5,0.5 H 57.83 M 57.83,0.5 M 0.5,24.5 V 18.5 m -7.36,-0.5 q -1.52,-5.5 0,-11 m 7.36,1 V 0.5 H 1 "/></g>
<text class="qt" x="764.55" y="570">“</text>
<rect class="fe" x="774.14" y="559" width="18.57" height="16" rx="4"/>
<text class="k" x="779.14" y="570.5">~</text>
<text class="qt" x="798" y="570">”</text>
<g transform="translate(638.83,580)"><path fill="#4b2a8e" transform="translate(1,1)" d="m 0,0 H 241.29 v 25 v 5 c 0,10 -8,-8 -8,7.5 s 8,-2.5 8,7.5 v 6 v 5 c 0,10 -8,-8 -8,7.5 s 8,-2.5 8,7.5 v 6 v 5 c 0,10 -8,-8 -8,7.5 s 8,-2.5 8,7.5 v 6 v 5 c 0,10 -8,-8 -8,7.5 s 8,-2.5 8,7.5 v 5 H 0 V 20 c 0,-10 -8,8 -8,-7.5 s 8,2.5 8,-7.5 z "/><path fill="#5E35B1" d="m 0,0 H 241.29 v 25 v 5 c 0,10 -8,-8 -8,7.5 s 8,-2.5 8,7.5 v 6 v 5 c 0,10 -8,-8 -8,7.5 s 8,-2.5 8,7.5 v 6 v 5 c 0,10 -8,-8 -8,7.5 s 8,-2.5 8,7.5 v 6 v 5 c 0,10 -8,-8 -8,7.5 s 8,-2.5 8,7.5 v 5 H 0 V 20 c 0,-10 -8,8 -8,-7.5 s 8,2.5 8,-7.5 z "/><path class="hl" stroke="#8e72c8" d="m 0.5,0.5 H 240.79 M 240.79,0.5 M 240.79,25.5 M 236.29,44.3 l 3.68,-2.1 M 240.79,51.5 M 236.29,70.3 l 3.68,-2.1 M 240.79,77.5 M 236.29,96.3 l 3.68,-2.1 M 240.79,103.5 M 236.29,122.3 l 3.68,-2.1 M 0.5,127.5 V 18.5 m -7.36,-0.5 q -1.52,-5.5 0,-11 m 7.36,1 V 0.5 H 1 "/></g>
<text x="648.83" y="596.5">call</text>
<rect class="fe" x="679.92" y="585" width="134.81" height="16" rx="4"/>
<text class="k" x="684.92" y="596.5">Device_Utilities1</text>
<text class="ar" style="fill:#5E35B1" transform="translate(801.03,595.7) scale(1.3,1)">▾</text>
<text x="819.73" y="596.5">.Parse</text>
<text x="838.48" y="621.5">text</text>
<text x="833.59" y="647.5">start</text>
<text x="837.65" y="673.5">end</text>
<text x="747.44" y="699.5">if Text Not Found</text>
<g transform="translate(881.12,605)"><path fill="#c34118" transform="translate(1,1)" d="m 0,0 H 94.5 v 25 H 0 V 20 c 0,-10 -8,8 -8,-7.5 s 8,2.5 8,-7.5 z "/><path fill="#F4511E" d="m 0,0 H 94.5 v 25 H 0 V 20 c 0,-10 -8,8 -8,-7.5 s 8,2.5 8,-7.5 z "/><path class="hl" stroke="#f78562" d="m 0.5,0.5 H 94 M 94,0.5 M 0.5,24.5 V 18.5 m -7.36,-0.5 q -1.52,-5.5 0,-11 m 7.36,1 V 0.5 H 1 "/></g>
<text x="891.12" y="621.5">get</text>
<rect class="fe" x="916.51" y="610" width="54.11" height="16" rx="4"/>
<text class="k" x="921.51" y="621.5">item</text>
<text class="ar" style="fill:#F4511E" transform="translate(956.92,620.7) scale(1.3,1)">▾</text>
<g transform="translate(881.12,631)"><path fill="#ad164d" transform="translate(1,1)" d="m 0,0 H 54.65 v 25 H 0 V 20 c 0,-10 -8,8 -8,-7.5 s 8,2.5 8,-7.5 z "/><path fill="#D81B60" d="m 0,0 H 54.65 v 25 H 0 V 20 c 0,-10 -8,8 -8,-7.5 s 8,2.5 8,-7.5 z "/><path class="hl" stroke="#e45f90" d="m 0.5,0.5 H 54.15 M 54.15,0.5 M 0.5,24.5 V 18.5 m -7.36,-0.5 q -1.52,-5.5 0,-11 m 7.36,1 V 0.5 H 1 "/></g>
<text class="qt" x="891.42" y="647">“</text>
<rect class="fe" x="901" y="636" width="14.88" height="16" rx="4"/>
<text class="k" x="906" y="647.5">-</text>
<text class="qt" x="921.19" y="647">”</text>
<g transform="translate(881.12,657)"><path fill="#ad164d" transform="translate(1,1)" d="m 0,0 H 58.33 v 25 H 0 V 20 c 0,-10 -8,8 -8,-7.5 s 8,2.5 8,-7.5 z "/><path fill="#D81B60" d="m 0,0 H 58.33 v 25 H 0 V 20 c 0,-10 -8,8 -8,-7.5 s 8,2.5 8,-7.5 z "/><path class="hl" stroke="#e45f90" d="m 0.5,0.5 H 57.83 M 57.83,0.5 M 0.5,24.5 V 18.5 m -7.36,-0.5 q -1.52,-5.5 0,-11 m 7.36,1 V 0.5 H 1 "/></g>
<text class="qt" x="891.42" y="673">“</text>
<rect class="fe" x="901" y="662" width="18.57" height="16" rx="4"/>
<text class="k" x="906" y="673.5">~</text>
<text class="qt" x="924.87" y="673">”</text>
<g transform="translate(881.12,683)"><path fill="#ad164d" transform="translate(1,1)" d="m 0,0 H 53.84 v 25 H 0 V 20 c 0,-10 -8,8 -8,-7.5 s 8,2.5 8,-7.5 z "/><path fill="#D81B60" d="m 0,0 H 53.84 v 25 H 0 V 20 c 0,-10 -8,8 -8,-7.5 s 8,2.5 8,-7.5 z "/><path class="hl" stroke="#e45f90" d="m 0.5,0.5 H 53.34 M 53.34,0.5 M 0.5,24.5 V 18.5 m -7.36,-0.5 q -1.52,-5.5 0,-11 m 7.36,1 V 0.5 H 1 "/></g>
<text class="qt" x="891.42" y="699">“</text>
<rect class="fe" x="901" y="688" width="14.07" height="16" rx="4"/>
<text class="k" x="906" y="699.5"> </text>
<text class="qt" x="920.38" y="699">”</text>
<g transform="translate(575.5,734)"><path fill="#ad164d" transform="translate(1,1)" d="m 0,0 H 57.93 v 25 H 0 V 20 c 0,-10 -8,8 -8,-7.5 s 8,2.5 8,-7.5 z "/><path fill="#D81B60" d="m 0,0 H 57.93 v 25 H 0 V 20 c 0,-10 -8,8 -8,-7.5 s 8,2.5 8,-7.5 z "/><path class="hl" stroke="#e45f90" d="m 0.5,0.5 H 57.43 M 57.43,0.5 M 0.5,24.5 V 18.5 m -7.36,-0.5 q -1.52,-5.5 0,-11 m 7.36,1 V 0.5 H 1 "/></g>
<text class="qt" x="585.8" y="750">“</text>
<rect class="fe" x="595.38" y="739" width="18.16" height="16" rx="4"/>
<text class="k" x="600.38" y="750.5">_</text>
<text class="qt" x="618.84" y="750">”</text>
<g transform="translate(575.5,760)"><path fill="#ad164d" transform="translate(1,1)" d="m 0,0 H 54.65 v 25 H 0 V 20 c 0,-10 -8,8 -8,-7.5 s 8,2.5 8,-7.5 z "/><path fill="#D81B60" d="m 0,0 H 54.65 v 25 H 0 V 20 c 0,-10 -8,8 -8,-7.5 s 8,2.5 8,-7.5 z "/><path class="hl" stroke="#e45f90" d="m 0.5,0.5 H 54.15 M 54.15,0.5 M 0.5,24.5 V 18.5 m -7.36,-0.5 q -1.52,-5.5 0,-11 m 7.36,1 V 0.5 H 1 "/></g>
<text class="qt" x="585.8" y="776">“</text>
<rect class="fe" x="595.38" y="765" width="14.88" height="16" rx="4"/>
<text class="k" x="600.38" y="776.5">-</text>
<text class="qt" x="615.57" y="776">”</text>
<g transform="translate(575.5,786)"><path fill="#ad164d" transform="translate(1,1)" d="m 0,0 H 53.84 v 25 H 0 V 20 c 0,-10 -8,8 -8,-7.5 s 8,2.5 8,-7.5 z "/><path fill="#D81B60" d="m 0,0 H 53.84 v 25 H 0 V 20 c 0,-10 -8,8 -8,-7.5 s 8,2.5 8,-7.5 z "/><path class="hl" stroke="#e45f90" d="m 0.5,0.5 H 53.34 M 53.34,0.5 M 0.5,24.5 V 18.5 m -7.36,-0.5 q -1.52,-5.5 0,-11 m 7.36,1 V 0.5 H 1 "/></g>
<text class="qt" x="585.8" y="802">“</text>
<rect class="fe" x="595.38" y="791" width="14.07" height="16" rx="4"/>
<text class="k" x="600.38" y="802.5"> </text>
<text class="qt" x="614.76" y="802">”</text>
</svg>
</body></html>
